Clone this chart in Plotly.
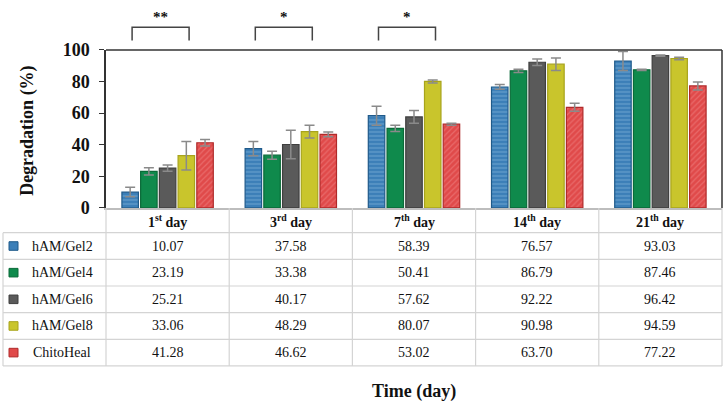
import plotly.graph_objects as go

W, H = 726, 414
days = ["1<sup>st</sup> day", "3<sup>rd</sup> day", "7<sup>th</sup> day", "14<sup>th</sup> day", "21<sup>th</sup> day"]
series = ["hAM/Gel2", "hAM/Gel4", "hAM/Gel6", "hAM/Gel8", "ChitoHeal"]
gel2 = [10.07, 37.58, 58.39, 76.57, 93.03]
gel4 = [23.19, 33.38, 50.41, 86.79, 87.46]
gel6 = [25.21, 40.17, 57.62, 92.22, 96.42]
gel8 = [33.06, 48.29, 80.07, 90.98, 94.59]
chito = [41.28, 46.62, 53.02, 63.70, 77.22]
err_gel2 = [3.0, 4.5, 6.0, 1.5, 6.0]
err_gel4 = [2.3, 2.5, 2.0, 1.0, 0.4]
err_gel6 = [2.0, 9.0, 4.0, 2.0, 0.4]
err_gel8 = [9.0, 4.0, 1.0, 4.0, 0.8]
err_chito = [2.0, 1.5, 0.6, 2.5, 2.5]
sig_labels = ["**", "*", "*", None, None]

values = [gel2, gel4, gel6, gel8, chito]
errors = [err_gel2, err_gel4, err_gel6, err_gel8, err_chito]
fills = ["#3c7fb8", "#0f8a4c", "#5a5a5a", "#c9c52c", "#e04a4a"]
lines = ["#1f5a8a", "#0a6a38", "#3f3f3f", "#a8a41c", "#b02a2a"]
patterns = ["-", "", "", "", "/"]
pat_fg = ["#8fbde0", None, None, None, "#f08a8a"]

def px(x):
    return x / W

def py(y):
    return 1 - y / H

x0p, x1p, y0p, y1p = 106, 722, 42, 208

fig = go.Figure()
for i, s in enumerate(series):
    pat = dict(shape=patterns[i], fgcolor=pat_fg[i], size=4, solidity=0.3) if patterns[i] else dict(shape="")
    fig.add_trace(go.Bar(
        x=list(range(len(days))), y=values[i], name=s,
        marker=dict(color=fills[i], line=dict(color=lines[i], width=1.2), pattern=pat),
        error_y=dict(type="data", array=errors[i], color="#8a8a8a", thickness=1.5, width=5),
    ))

fig.update_layout(
    width=W, height=H, barmode="group", bargap=0.24, bargroupgap=0.12,
    margin=dict(l=0, r=0, t=0, b=0), showlegend=False,
    plot_bgcolor="white", paper_bgcolor="white",
    font=dict(family="Liberation Serif", color="#111"),
    xaxis=dict(domain=[px(x0p), px(x1p)], range=[-0.5, 4.5], showticklabels=False,
               showgrid=False, zeroline=False, showline=True, linecolor="#bdbdbd", linewidth=1.5,
               mirror=False, ticks=""),
    yaxis=dict(domain=[py(y1p), py(y0p)], range=[0, 100], dtick=20, showgrid=False, zeroline=False,
               showline=True, linecolor="#333", linewidth=1.5, ticks="outside", ticklen=5,
               tickcolor="#333", ticklabelstandoff=6,
               tickfont=dict(family="Liberation Serif", size=18, color="#111", weight="bold")),
)

def label(x, y, text, size, angle=0):
    fig.add_annotation(x=px(x), y=py(y), xref="paper", yref="paper", text=text, textangle=angle,
                       xanchor="center", yanchor="middle", showarrow=False,
                       font=dict(size=size, family="Liberation Serif", color="#111"))

# top and right frame
fig.add_shape(type="line", xref="paper", yref="paper", x0=px(x0p), x1=px(x1p), y0=py(y0p), y1=py(y0p),
              line=dict(color="#333", width=1.5))
fig.add_shape(type="line", xref="paper", yref="paper", x0=px(x1p), x1=px(x1p), y0=py(y0p), y1=py(y1p),
              line=dict(color="#333", width=1.5))

label(28, 127, "<b>Degradation (%)</b>", 18, -90)

# significance brackets: from Gel2 bar center to Gel8 bar center
catw = (x1p - x0p) / len(days)
for i, lab in enumerate(sig_labels):
    if not lab:
        continue
    cx = x0p + catw * (i + 0.5)
    xa, xb = cx - 35.5, cx + 21.5
    fig.add_shape(type="path", xref="paper", yref="paper",
                  path=f"M {px(xa)},{py(32)} L {px(xa)},{py(18)} L {px(xb)},{py(18)} L {px(xb)},{py(32)}",
                  line=dict(color="#444", width=1.5))
    label((xa + xb) / 2, 7, f"<b>{lab}</b>", 15)

# table grid
grid = "#d4d4d4"
row_y = [234, 262, 290, 318, 346, 374]
col_x = [x0p + catw * k for k in range(len(days) + 1)]
tab_left = 3
for yy in row_y:
    fig.add_shape(type="line", xref="paper", yref="paper", x0=px(tab_left), x1=px(x1p), y0=py(yy), y1=py(yy),
                  line=dict(color=grid, width=1.2))
fig.add_shape(type="line", xref="paper", yref="paper", x0=px(tab_left), x1=px(tab_left), y0=py(234), y1=py(374),
              line=dict(color=grid, width=1.2))
for cx in col_x:
    fig.add_shape(type="line", xref="paper", yref="paper", x0=px(cx), x1=px(cx), y0=py(y1p), y1=py(374),
                  line=dict(color=grid, width=1.2))

for j, d in enumerate(days):
    label(x0p + catw * (j + 0.5), 222, f"<b>{d}</b>", 14)

for i, s in enumerate(series):
    yc = (row_y[i] + row_y[i + 1]) / 2
    fig.add_shape(type="rect", xref="paper", yref="paper", x0=px(9), x1=px(18), y0=py(yc - 4.5), y1=py(yc + 4.5),
                  fillcolor=fills[i], line=dict(color=lines[i], width=1))
    label(62, yc, s, 14)
    for j in range(len(days)):
        label(x0p + catw * (j + 0.5), yc, f"{values[i][j]:.2f}", 14)

label(414, 401, "<b>Time (day)</b>", 18)

fig.write_html("out.html", config={"displayModeBar": False},
               post_script="document.body.style.margin='0';document.body.style.overflow='hidden';")
